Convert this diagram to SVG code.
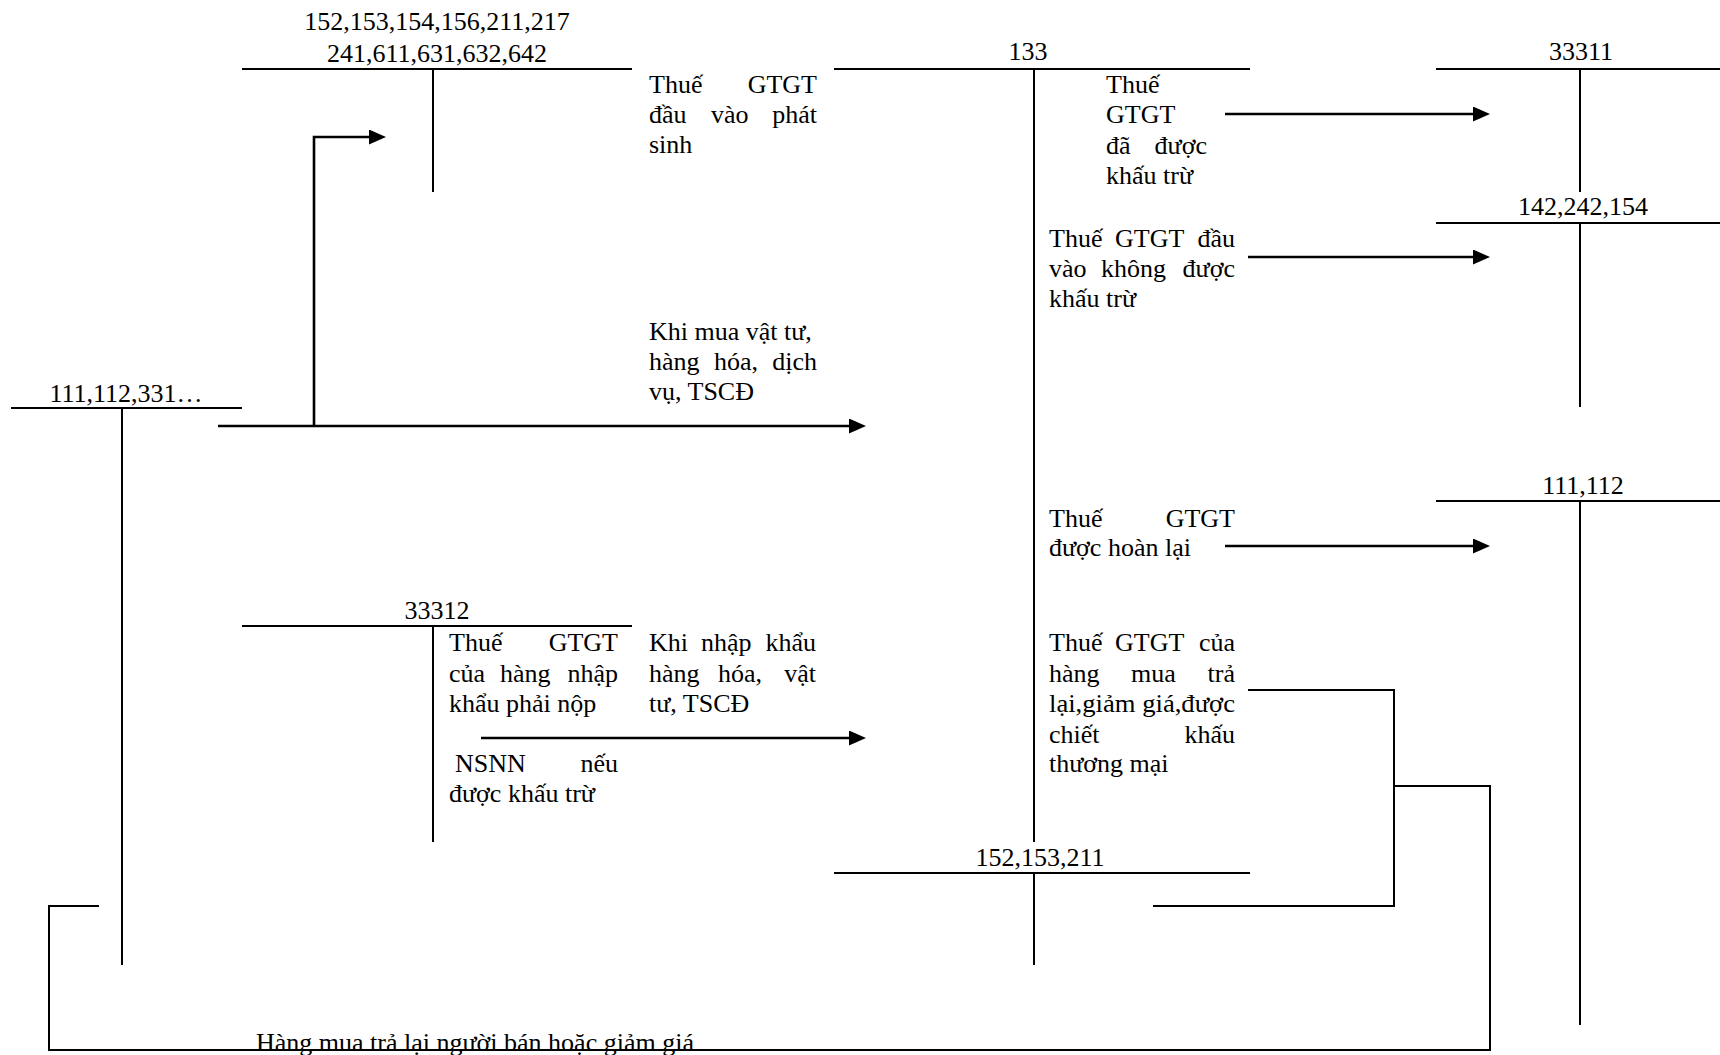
<svg xmlns="http://www.w3.org/2000/svg" width="1720" height="1055" viewBox="0 0 1720 1055">
<style>
text{font-family:"Liberation Serif","Times New Roman",serif;font-size:26px;fill:#000}
.c{text-anchor:middle}
.e{text-anchor:end}
.t{stroke:#000;stroke-width:2;fill:none}
.a{stroke:#000;stroke-width:2.6;fill:none}
</style>
<defs>
<marker id="ah" markerUnits="userSpaceOnUse" markerWidth="17" markerHeight="15" refX="8" refY="7.5" orient="auto">
<path d="M0,0 L17,7.5 L0,15 z" fill="#000"/>
</marker>
</defs>
<rect width="1720" height="1055" fill="#fff"/>

<g id="acc-152-642">
<text class="c" x="437" y="30">152,153,154,156,211,217</text>
<text class="c" x="437" y="62">241,611,631,632,642</text>
<path class="t" d="M242,69 H632 M433,69 V192"/>
</g>

<g id="acc-133">
<text class="c" x="1028" y="60">133</text>
<path class="t" d="M834,69 H1250 M1034,69 V842"/>
</g>

<g id="acc-33311">
<text class="c" x="1581" y="60">33311</text>
<path class="t" d="M1436,69 H1720 M1580,69 V192"/>
</g>

<g id="acc-142-242-154">
<text class="c" x="1583" y="215">142,242,154</text>
<path class="t" d="M1436,223 H1720 M1580,223 V407"/>
</g>

<g id="acc-111-112-331">
<text class="c" x="126" y="402">111,112,331…</text>
<path class="t" d="M11,408 H242 M122,408 V965"/>
</g>

<g id="acc-111-112">
<text class="c" x="1583" y="494">111,112</text>
<path class="t" d="M1436,501 H1720 M1580,501 V1025"/>
</g>

<g id="acc-33312">
<text class="c" x="437" y="619">33312</text>
<path class="t" d="M242,626 H632 M433,626 V842"/>
</g>

<g id="acc-152-153-211">
<text class="c" x="1040" y="866">152,153,211</text>
<path class="t" d="M834,873 H1250 M1034,873 V965"/>
</g>

<g id="connectors">
<path class="a" d="M218,426 H857" marker-end="url(#ah)"/>
<path class="a" d="M314,426 V137 H377" marker-end="url(#ah)"/>
<path class="a" d="M481,738 H857" marker-end="url(#ah)"/>
<path class="a" d="M1225,114 H1481" marker-end="url(#ah)"/>
<path class="a" d="M1248,257 H1481" marker-end="url(#ah)"/>
<path class="a" d="M1225,546 H1481" marker-end="url(#ah)"/>
<path class="t" d="M1248,690 H1394 V906 H1153"/>
<path class="t" d="M1394,786 H1490 V1050 H49 V906 H99"/>
</g>

<g id="labels">
<text x="649" y="93">Thuế</text><text class="e" x="817" y="93">GTGT</text>
<text x="649" y="123">đầu</text><text x="711" y="123">vào</text><text class="e" x="817" y="123">phát</text>
<text x="649" y="153">sinh</text>

<text x="649" y="340">Khi mua vật tư,</text>
<text x="649" y="370">hàng</text><text x="714" y="370">hóa,</text><text class="e" x="817" y="370">dịch</text>
<text x="649" y="400">vụ, TSCĐ</text>

<text x="1106" y="93">Thuế</text>
<text x="1106" y="123">GTGT</text>
<text x="1106" y="154">đã</text><text class="e" x="1207" y="154">được</text>
<text x="1106" y="184">khấu trừ</text>

<text x="1049" y="247">Thuế</text><text x="1115" y="247">GTGT</text><text class="e" x="1235" y="247">đầu</text>
<text x="1049" y="277">vào</text><text x="1101" y="277">không</text><text class="e" x="1235" y="277">được</text>
<text x="1049" y="307">khấu trừ</text>

<text x="1049" y="527">Thuế</text><text class="e" x="1235" y="527">GTGT</text>
<text x="1049" y="556">được hoàn lại</text>

<text x="1049" y="651">Thuế</text><text x="1115" y="651">GTGT</text><text class="e" x="1235" y="651">của</text>
<text x="1049" y="682">hàng</text><text x="1131" y="682">mua</text><text class="e" x="1235" y="682">trả</text>
<text x="1049" y="712" textLength="186" lengthAdjust="spacingAndGlyphs">lại,giảm giá,được</text>
<text x="1049" y="743">chiết</text><text class="e" x="1235" y="743">khấu</text>
<text x="1049" y="772">thương mại</text>

<text x="449" y="651">Thuế</text><text class="e" x="618" y="651">GTGT</text>
<text x="449" y="682">của</text><text x="500" y="682">hàng</text><text class="e" x="618" y="682">nhập</text>
<text x="449" y="712">khẩu phải nộp</text>
<text x="455" y="772">NSNN</text><text class="e" x="618" y="772">nếu</text>
<text x="449" y="802">được khấu trừ</text>

<text x="649" y="651">Khi</text><text x="701" y="651">nhập</text><text class="e" x="816" y="651">khẩu</text>
<text x="649" y="682">hàng</text><text x="718" y="682">hóa,</text><text class="e" x="816" y="682">vật</text>
<text x="649" y="712">tư, TSCĐ</text>

<text x="256" y="1051">Hàng mua trả lại người bán hoặc giảm giá</text>
</g>
</svg>
